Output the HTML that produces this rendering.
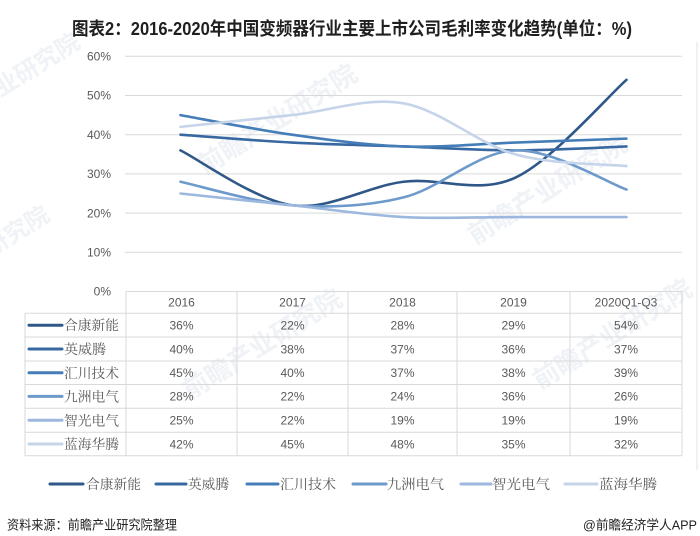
<!DOCTYPE html>
<html>
<head>
<meta charset="utf-8">
<style>
html,body{margin:0;padding:0;background:#fff;}
body{width:700px;height:536px;overflow:hidden;}
svg{display:block;}
.ax{font-family:"Liberation Sans","Noto Sans CJK SC",sans-serif;font-size:12px;fill:#595959;}
.lg{font-family:"Liberation Serif","Noto Serif CJK SC",serif;font-size:13.5px;fill:#595959;}
.wm{font-family:"Liberation Sans","Noto Sans CJK SC",sans-serif;font-weight:bold;fill:#eef1f5;}
</style>
</head>
<body>
<svg width="700" height="536" viewBox="0 0 700 536" xmlns="http://www.w3.org/2000/svg">
<rect width="700" height="536" fill="#fff"/>

<!-- watermarks -->
<g opacity="0.9">
<text class="wm" font-size="26" transform="translate(205,175) rotate(-32)">前瞻产业研究院</text>
<text class="wm" font-size="26" transform="translate(475,245) rotate(-32)">前瞻产业研究院</text>
<text class="wm" font-size="26" transform="translate(540,390) rotate(-32)">前瞻产业研究院</text>
<text class="wm" font-size="26" transform="translate(190,400) rotate(-32)">前瞻产业研究院</text>
<text class="wm" font-size="24" transform="translate(-20,110) rotate(-32)">产业研究院</text>
<text class="wm" font-size="24" transform="translate(-30,270) rotate(-32)">业研究院</text>
</g>

<!-- title -->
<text x="72" y="35" font-family="'Liberation Sans','Noto Sans CJK SC',sans-serif" font-weight="bold" font-size="18" fill="#1f1f1f" textLength="560" lengthAdjust="spacingAndGlyphs">图表2：2016-2020年中国变频器行业主要上市公司毛利率变化趋势(单位：%)</text>

<!-- right frame line -->
<line x1="697" y1="42" x2="697" y2="470" stroke="#e3e3e3" stroke-width="1"/>

<!-- gridlines -->
<g stroke="#d9d9d9" stroke-width="1">
<line x1="125" y1="56.3" x2="682" y2="56.3"/>
<line x1="125" y1="95.5" x2="682" y2="95.5"/>
<line x1="125" y1="134.7" x2="682" y2="134.7"/>
<line x1="125" y1="173.9" x2="682" y2="173.9"/>
<line x1="125" y1="213.1" x2="682" y2="213.1"/>
<line x1="125" y1="252.3" x2="682" y2="252.3"/>
</g>

<!-- y labels -->
<g class="ax" text-anchor="end">
<text x="111" y="60.5">60%</text>
<text x="111" y="99.7">50%</text>
<text x="111" y="138.9">40%</text>
<text x="111" y="178.1">30%</text>
<text x="111" y="217.3">20%</text>
<text x="111" y="256.5">10%</text>
<text x="111" y="295.7">0%</text>
</g>

<!-- series -->
<g fill="none" stroke-width="2.6" stroke-linecap="round" stroke-linejoin="round">
<path stroke="#2f5889" d="M180.5,150.38 C199.08,159.53 254.83,200.03 292,205.26 C329.17,210.49 366.33,186.31 403.5,181.74 C440.67,177.17 477.83,194.81 515,177.82 C552.17,160.83 607.92,96.15 626.5,79.82"/>
<path stroke="#3868a0" d="M180.5,134.7 C199.08,136.01 254.83,140.58 292,142.54 C329.17,144.5 366.33,145.15 403.5,146.46 C440.67,147.77 477.83,150.38 515,150.38 C552.17,150.38 607.92,147.11 626.5,146.46"/>
<path stroke="#447db7" d="M180.5,115.1 C199.08,118.37 254.83,129.47 292,134.7 C329.17,139.93 366.33,145.15 403.5,146.46 C440.67,147.77 477.83,143.85 515,142.54 C552.17,141.23 607.92,139.27 626.5,138.62"/>
<path stroke="#6e9acb" d="M180.5,181.74 C199.08,185.66 254.83,202.65 292,205.26 C329.17,207.87 366.33,206.56 403.5,197.42 C440.67,188.27 477.83,151.69 515,150.38 C552.17,149.07 607.92,183.05 626.5,189.58"/>
<path stroke="#9cb8de" d="M180.5,193.5 C199.08,195.46 254.83,201.34 292,205.26 C329.17,209.18 366.33,215.06 403.5,217.02 C440.67,218.98 477.83,217.02 515,217.02 L626.5,217.02"/>
<path stroke="#c6d4e9" d="M180.5,126.86 C199.08,124.9 254.83,119.02 292,115.1 C329.17,111.18 366.33,96.81 403.5,103.34 C440.67,109.87 477.83,143.85 515,154.3 C552.17,164.75 607.92,164.1 626.5,166.06"/>
</g>

<!-- data table -->
<g stroke="#d9d9d9" stroke-width="1" fill="none">
<line x1="126" y1="291.5" x2="682" y2="291.5"/>
<line x1="25" y1="313.3" x2="682" y2="313.3"/>
<line x1="25" y1="337" x2="682" y2="337"/>
<line x1="25" y1="361" x2="682" y2="361"/>
<line x1="25" y1="384.5" x2="682" y2="384.5"/>
<line x1="25" y1="408.3" x2="682" y2="408.3"/>
<line x1="25" y1="432.3" x2="682" y2="432.3"/>
<line x1="25" y1="455.7" x2="682" y2="455.7"/>
<line x1="25" y1="313.3" x2="25" y2="455.7"/>
<line x1="126" y1="291.5" x2="126" y2="455.7"/>
<line x1="237" y1="291.5" x2="237" y2="455.7"/>
<line x1="348" y1="291.5" x2="348" y2="455.7"/>
<line x1="457" y1="291.5" x2="457" y2="455.7"/>
<line x1="570" y1="291.5" x2="570" y2="455.7"/>
<line x1="682" y1="291.5" x2="682" y2="455.7"/>
</g>

<g class="ax" text-anchor="middle">
<text x="181.5" y="306.5">2016</text>
<text x="292.5" y="306.5">2017</text>
<text x="402.5" y="306.5">2018</text>
<text x="513.5" y="306.5">2019</text>
<text x="626" y="306.5">2020Q1-Q3</text>

<text x="181.5" y="329.5">36%</text><text x="292.5" y="329.5">22%</text><text x="402.5" y="329.5">28%</text><text x="513.5" y="329.5">29%</text><text x="626" y="329.5">54%</text>
<text x="181.5" y="353.3">40%</text><text x="292.5" y="353.3">38%</text><text x="402.5" y="353.3">37%</text><text x="513.5" y="353.3">36%</text><text x="626" y="353.3">37%</text>
<text x="181.5" y="377">45%</text><text x="292.5" y="377">40%</text><text x="402.5" y="377">37%</text><text x="513.5" y="377">38%</text><text x="626" y="377">39%</text>
<text x="181.5" y="400.7">28%</text><text x="292.5" y="400.7">22%</text><text x="402.5" y="400.7">24%</text><text x="513.5" y="400.7">36%</text><text x="626" y="400.7">26%</text>
<text x="181.5" y="424.6">25%</text><text x="292.5" y="424.6">22%</text><text x="402.5" y="424.6">19%</text><text x="513.5" y="424.6">19%</text><text x="626" y="424.6">19%</text>
<text x="181.5" y="448.3">42%</text><text x="292.5" y="448.3">45%</text><text x="402.5" y="448.3">48%</text><text x="513.5" y="448.3">35%</text><text x="626" y="448.3">32%</text>
</g>

<!-- table row labels -->
<g stroke-width="3" stroke-linecap="round">
<line x1="29" y1="325.2" x2="62" y2="325.2" stroke="#2f5889"/>
<line x1="29" y1="349" x2="62" y2="349" stroke="#3868a0"/>
<line x1="29" y1="372.8" x2="62" y2="372.8" stroke="#447db7"/>
<line x1="29" y1="396.4" x2="62" y2="396.4" stroke="#6e9acb"/>
<line x1="29" y1="420.3" x2="62" y2="420.3" stroke="#9cb8de"/>
<line x1="29" y1="444" x2="62" y2="444" stroke="#c6d4e9"/>
</g>
<g class="lg">
<text x="64" y="330.2" textLength="55" lengthAdjust="spacingAndGlyphs">合康新能</text>
<text x="64" y="354" textLength="42" lengthAdjust="spacingAndGlyphs">英威腾</text>
<text x="64" y="377.8" textLength="55" lengthAdjust="spacingAndGlyphs">汇川技术</text>
<text x="64" y="401.4" textLength="55" lengthAdjust="spacingAndGlyphs">九洲电气</text>
<text x="64" y="425.3" textLength="55" lengthAdjust="spacingAndGlyphs">智光电气</text>
<text x="64" y="449" textLength="55" lengthAdjust="spacingAndGlyphs">蓝海华腾</text>
</g>

<!-- bottom legend -->
<g stroke-width="3" stroke-linecap="round">
<line x1="50" y1="484" x2="83" y2="484" stroke="#2f5889"/>
<line x1="156" y1="484" x2="186" y2="484" stroke="#3868a0"/>
<line x1="247" y1="484" x2="278" y2="484" stroke="#447db7"/>
<line x1="353" y1="484" x2="386" y2="484" stroke="#6e9acb"/>
<line x1="461" y1="484" x2="491" y2="484" stroke="#9cb8de"/>
<line x1="565" y1="484" x2="597" y2="484" stroke="#c6d4e9"/>
</g>
<g class="lg">
<text x="86" y="489" textLength="55" lengthAdjust="spacingAndGlyphs">合康新能</text>
<text x="188" y="489" textLength="41" lengthAdjust="spacingAndGlyphs">英威腾</text>
<text x="280" y="489" textLength="56" lengthAdjust="spacingAndGlyphs">汇川技术</text>
<text x="387" y="489" textLength="57" lengthAdjust="spacingAndGlyphs">九洲电气</text>
<text x="492" y="489" textLength="58" lengthAdjust="spacingAndGlyphs">智光电气</text>
<text x="599" y="489" textLength="58" lengthAdjust="spacingAndGlyphs">蓝海华腾</text>
</g>

<!-- source -->
<text x="7" y="529.5" font-family="'Liberation Sans','Noto Sans CJK SC',sans-serif" font-size="13" fill="#222" textLength="170" lengthAdjust="spacingAndGlyphs">资料来源：前瞻产业研究院整理</text>
<text x="583" y="529.5" font-family="'Liberation Sans','Noto Sans CJK SC',sans-serif" font-size="13" fill="#222" textLength="114" lengthAdjust="spacingAndGlyphs">@前瞻经济学人APP</text>
</svg>
</body>
</html>
